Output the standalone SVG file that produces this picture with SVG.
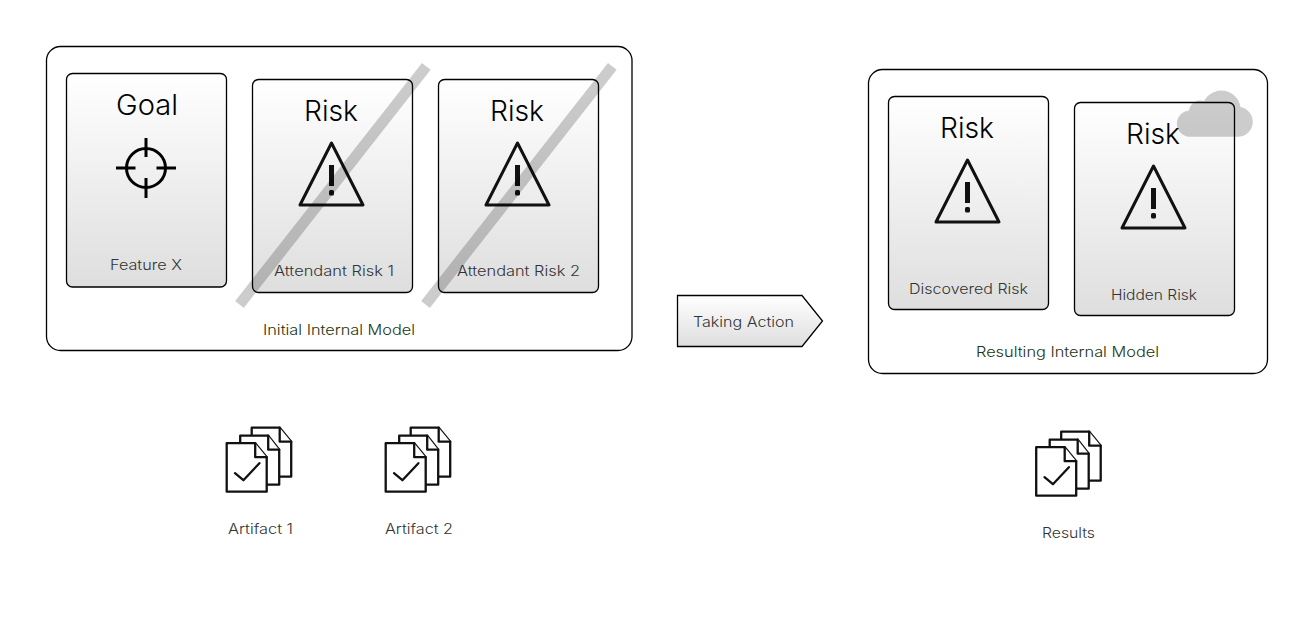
<svg xmlns="http://www.w3.org/2000/svg" width="1313" height="640" viewBox="0 0 1313 640">
<style>
text{font-family:Inter,"Liberation Sans",sans-serif;font-weight:300;fill:#1a1a1a;text-anchor:middle}
.t{font-size:28px;fill:#000;font-weight:300}
.s{font-size:14px;fill:#333;font-weight:300}
.g{font-size:14px;font-weight:300;fill:#22330f}
.outer{fill:#fff;stroke:#000;stroke-width:1.3}
.card{fill:url(#cg);stroke:#000;stroke-width:1.3}
.ic{fill:none;stroke:#111;stroke-width:3;stroke-linejoin:round}
.doc{fill:#fff;stroke:#111;stroke-width:2.300;stroke-linejoin:round;stroke-linecap:round}
.strike{stroke:#000;stroke-opacity:.2;stroke-width:11;fill:none}
</style>
<defs>
<linearGradient id="cg" x1="0" y1="0" x2="0" y2="1"><stop offset="0" stop-color="#fff"/><stop offset="1" stop-color="#dedede"/></linearGradient>
<g id="warn"><path class="ic" d="M0 2L31.500 64H-31.500Z"/><rect x="-2.500" y="24" width="5" height="21" fill="#111"/><rect x="-2.500" y="49" width="5" height="5.500" rx="1.500" fill="#111"/></g>
<g id="docs">
<path class="doc" d="M25 0H53L64.500 14V49H25Z"/><path class="doc" d="M53 0V14H64.500"/>
<path class="doc" d="M13.500 8H41.500L52.500 22V57H13.500Z"/><path class="doc" d="M41.500 8V22H52.500"/>
<path class="doc" d="M0 15.500H28.500L40 29.500V64H0Z"/><path class="doc" d="M28.500 15.500V29.500H40"/>
<path class="doc" style="fill:none" d="M8.300 45.500L16.700 52.500L32.700 35.500"/>
</g>
</defs>
<g id="model-initial"><rect class="outer" x="46.500" y="46.500" width="585.500" height="304" rx="14"/><text class="g" x="339" y="334.500" textLength="152" lengthAdjust="spacingAndGlyphs">Initial Internal Model</text></g>
<g id="goal"><rect class="card" x="66.500" y="73.500" width="160" height="213.500" rx="6"/><text class="t" x="147" y="115" textLength="62" lengthAdjust="spacingAndGlyphs">Goal</text>
<g fill="none" stroke="#000" stroke-width="3"><circle cx="146" cy="168" r="19.500"/><path d="M116 168H135.500M156.500 168H176M146 138V157M146 178V198"/></g>
<text class="s" x="146" y="270" textLength="72" lengthAdjust="spacingAndGlyphs">Feature X</text></g>
<g id="risk1"><rect class="card" x="252.500" y="79.500" width="160" height="213" rx="6"/><text class="t" x="331" y="121" textLength="54" lengthAdjust="spacingAndGlyphs">Risk</text><use href="#warn" x="331.500" y="141"/><text class="s" x="334" y="276" textLength="120" lengthAdjust="spacingAndGlyphs">Attendant Risk 1</text></g>
<g id="risk2"><rect class="card" x="438.500" y="79.500" width="160" height="213" rx="6"/><text class="t" x="517" y="121" textLength="54" lengthAdjust="spacingAndGlyphs">Risk</text><use href="#warn" x="517.500" y="141"/><text class="s" x="518.500" y="276" textLength="123" lengthAdjust="spacingAndGlyphs">Attendant Risk 2</text></g>
<g id="strike1"><path class="strike" d="M426.300 66.300L239.500 304.500"/></g>
<g id="strike2"><path class="strike" d="M612.300 66.300L425.500 304.500"/></g>
<g id="action"><path d="M677.500 295.500H802L822.500 321L802 346.500H677.500Z" fill="url(#cg)" stroke="#000" stroke-width="1.300"/><text class="s" x="743.500" y="327" textLength="101" lengthAdjust="spacingAndGlyphs">Taking Action</text></g>
<g id="model-result"><rect class="outer" x="868.500" y="69.500" width="399" height="304" rx="14"/><text class="g" x="1067.500" y="357" textLength="183" lengthAdjust="spacingAndGlyphs">Resulting Internal Model</text></g>
<g id="risk3"><rect class="card" x="888.500" y="96.500" width="160" height="213" rx="6"/><text class="t" x="967" y="138" textLength="54" lengthAdjust="spacingAndGlyphs">Risk</text><use href="#warn" x="967.500" y="158"/><text class="s" x="968.500" y="293.500" textLength="119" lengthAdjust="spacingAndGlyphs">Discovered Risk</text></g>
<g id="risk4"><rect class="card" x="1074.500" y="102.500" width="160" height="213" rx="6"/><text class="t" x="1153" y="144" textLength="54" lengthAdjust="spacingAndGlyphs">Risk</text><use href="#warn" x="1153.500" y="164"/><text class="s" x="1154" y="299.500" textLength="86" lengthAdjust="spacingAndGlyphs">Hidden Risk</text></g>
<g id="cloud"><path d="M1188 136.700H1239A15 15 0 0 0 1240.500 107A19.500 19.500 0 0 0 1204 101A11.500 11.500 0 0 0 1189 110.500A13.200 13.200 0 0 0 1188 136.700Z" fill="#000" fill-opacity=".2"/></g>
<g id="artifact1"><use href="#docs" x="226.700" y="427.700"/><text class="s" x="260.500" y="533.500" textLength="65" lengthAdjust="spacingAndGlyphs">Artifact 1</text></g>
<g id="artifact2"><use href="#docs" x="385.700" y="427.700"/><text class="s" x="419" y="533.500" textLength="68" lengthAdjust="spacingAndGlyphs">Artifact 2</text></g>
<g id="results"><use href="#docs" x="1036.200" y="431.700"/><text class="s" x="1068.500" y="537.500" textLength="53" lengthAdjust="spacingAndGlyphs">Results</text></g>
<g id="connectors"/>
</svg>
